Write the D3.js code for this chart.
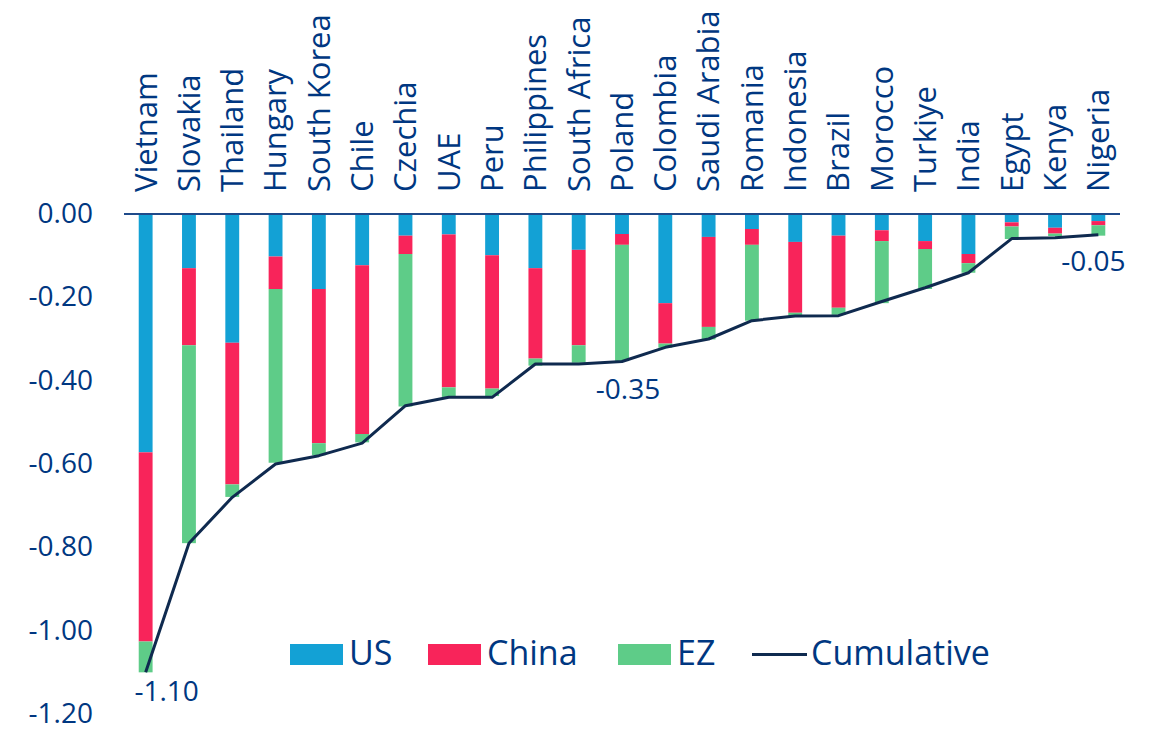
<!DOCTYPE html>
<html>
<head>
<meta charset="utf-8">
<script src="https://cdn.jsdelivr.net/npm/d3@7"></script>
<style>
  html, body { margin: 0; padding: 0; background: #ffffff; }
  svg { display: block; }
  svg text { font-family: "Open Sans", "Noto Sans", sans-serif; font-weight: 500; }
</style>
</head>
<body>
<svg id="chart" width="1153" height="731"></svg>
<script>
const countries = ["Vietnam","Slovakia","Thailand","Hungary","South Korea","Chile","Czechia","UAE","Peru","Philippines","South Africa","Poland","Colombia","Saudi Arabia","Romania","Indonesia","Brazil","Morocco","Turkiye","India","Egypt","Kenya","Nigeria"];
const usValues    = [-0.572,-0.130,-0.309,-0.102,-0.180,-0.123,-0.052,-0.049,-0.099,-0.130,-0.086,-0.048,-0.214,-0.055,-0.036,-0.067,-0.052,-0.039,-0.065,-0.096,-0.020,-0.033,-0.017];
const chinaValues = [-0.454,-0.185,-0.340,-0.078,-0.370,-0.405,-0.044,-0.367,-0.320,-0.217,-0.229,-0.026,-0.097,-0.216,-0.038,-0.170,-0.173,-0.026,-0.019,-0.022,-0.010,-0.014,-0.010];
const ezValues    = [-0.074,-0.475,-0.030,-0.417,-0.029,-0.020,-0.366,-0.023,-0.018,-0.017,-0.042,-0.279,-0.010,-0.030,-0.182,-0.008,-0.017,-0.149,-0.096,-0.023,-0.030,-0.006,-0.025];
const cumulativeValues = [-1.10,-0.79,-0.68,-0.60,-0.58,-0.55,-0.46,-0.44,-0.44,-0.36,-0.36,-0.354,-0.32,-0.30,-0.256,-0.245,-0.244,-0.21,-0.177,-0.141,-0.059,-0.057,-0.05];
const yTicks = [0,-0.2,-0.4,-0.6,-0.8,-1.0,-1.2];
const seriesNames = ["US","China","EZ"];
const annotations = [
  {country:"Vietnam", value:-1.10, text:"-1.10"},
  {country:"Poland", value:-0.354, text:"-0.35"},
  {country:"Nigeria", value:-0.05, text:"-0.05"}
];

const colors = {US:"#13A1D5", China:"#F8245A", EZ:"#5ECC88"};
const textColor = "#003781";
const lineColor = "#0F2A4F";
const fontFamily = '"Open Sans", "Noto Sans", sans-serif';

const svg = d3.select("#chart");
svg.append("rect").attr("width",1153).attr("height",731).attr("fill","#fff");

const x = d3.scaleBand().domain(countries).range([124,1120]).paddingInner(0.68).paddingOuter(0.34);
const y = d3.scaleLinear().domain([0,-1.2]).range([214,714]);

const table = countries.map((c,i)=>({country:c, US:usValues[i], China:chinaValues[i], EZ:ezValues[i]}));
const stacked = d3.stack().keys(seriesNames).offset(d3.stackOffsetDiverging)(table);

svg.append("g").selectAll("g").data(stacked).join("g")
  .attr("fill", d=>colors[d.key])
  .selectAll("rect").data(d=>d).join("rect")
  .attr("x", d=>x(d.data.country))
  .attr("width", x.bandwidth())
  .attr("y", d=>Math.min(y(d[0]), y(d[1])))
  .attr("height", d=>Math.abs(y(d[1]) - y(d[0])));

// zero line
svg.append("line")
  .attr("x1",124).attr("x2",1120)
  .attr("y1",y(0)).attr("y2",y(0))
  .attr("stroke","#1F4A8A").attr("stroke-width",2);

const fmt = v => d3.format(".2f")(v).replace("\u2212","-");

// y axis
const yAxis = d3.axisLeft(y).tickValues(yTicks).tickFormat(fmt).tickSize(0).tickPadding(0);
const yg = svg.append("g").attr("transform","translate(93,0)").call(yAxis).attr("font-family",fontFamily);
yg.select(".domain").remove();
yg.selectAll("text").attr("fill",textColor).style("font-size","28px").attr("dy","0.3em");

// x labels (rotated)
const xAxis = d3.axisTop(x).tickSize(0).tickPadding(0);
const xg = svg.append("g").attr("transform","translate(0,192)").call(xAxis).attr("font-family",fontFamily);
xg.select(".domain").remove();
xg.selectAll("text")
  .attr("fill",textColor).style("font-size","31px")
  .attr("transform","rotate(-90)")
  .attr("text-anchor","start")
  .attr("x",0).attr("y",0).attr("dy","0.35em");

// cumulative line
const line = d3.line().x((d,i)=>x(countries[i]) + x.bandwidth()/2).y(d=>y(d));
svg.append("path").datum(cumulativeValues)
  .attr("d", line).attr("fill","none")
  .attr("stroke",lineColor).attr("stroke-width",3).attr("stroke-linejoin","round");

// annotations
const annOffsets = {"Vietnam":[21,29], "Poland":[6,37], "Nigeria":[-5,36]};
svg.append("g").selectAll("text").data(annotations).join("text")
  .attr("x", d=>x(d.country)+x.bandwidth()/2 + annOffsets[d.country][0])
  .attr("y", d=>y(d.value) + annOffsets[d.country][1])
  .attr("text-anchor","middle")
  .attr("fill",textColor).style("font-size","28px")
  .text(d=>d.text);

// legend
const legend = svg.append("g");
const legendItems = [
  {name:"US", type:"rect", x:290},
  {name:"China", type:"rect", x:428},
  {name:"EZ", type:"rect", x:618},
  {name:"Cumulative", type:"line", x:752}
];
legendItems.forEach(it=>{
  if (it.type==="rect") {
    legend.append("rect").attr("x",it.x).attr("y",644).attr("width",53).attr("height",21).attr("fill",colors[it.name]);
  } else {
    legend.append("line").attr("x1",it.x).attr("x2",it.x+55).attr("y1",654.5).attr("y2",654.5)
      .attr("stroke",lineColor).attr("stroke-width",3);
  }
  legend.append("text").attr("x", it.x + 59).attr("y",665)
    .attr("fill",textColor).style("font-size","34px").text(it.name);
});
</script>
</body>
</html>
